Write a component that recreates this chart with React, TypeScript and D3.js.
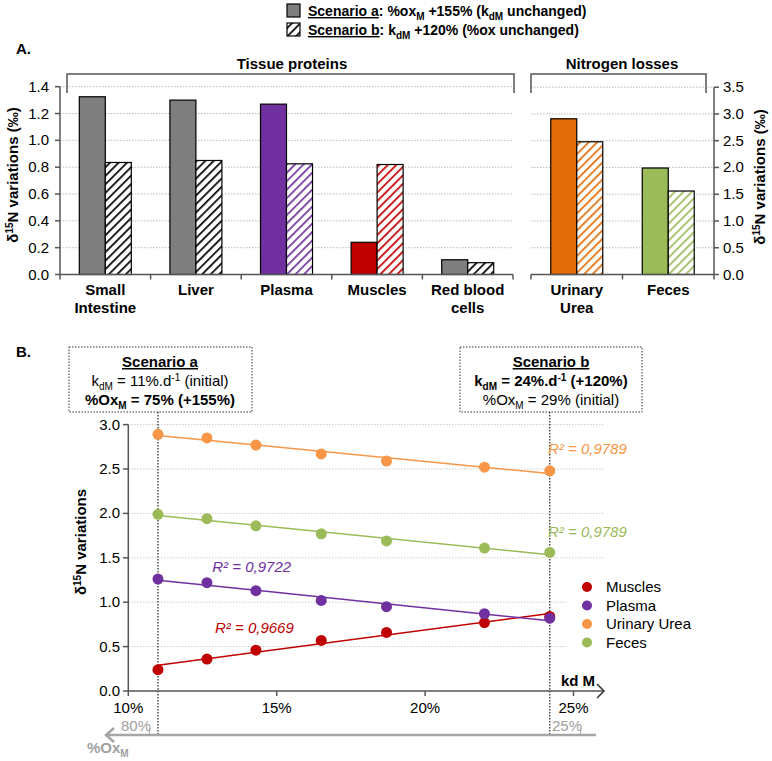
import * as d3 from "d3";

// panel A data
const tissueCats = ["Small|Intestine", "Liver", "Plasma", "Muscles", "Red blood|cells"];
const tissueA = [1.325, 1.3, 1.27, 0.24, 0.11];
const tissueB = [0.835, 0.85, 0.825, 0.82, 0.088];
const tissueColors = ["#7f7f7f", "#7f7f7f", "#7030a0", "#c00000", "#7f7f7f"];
const tissueTicks = [0, 0.2, 0.4, 0.6, 0.8, 1.0, 1.2, 1.4];

const lossCats = ["Urinary|Urea", "Feces"];
const lossA = [2.91, 1.99];
const lossB = [2.48, 1.56];
const lossColors = ["#e36c09", "#9bbb59"];
const lossTicks = [0, 0.5, 1.0, 1.5, 2.0, 2.5, 3.0, 3.5];

// panel B data
const kdValues = [11, 12.65, 14.3, 16.5, 18.7, 22, 24.2];
const seriesNames = ["Muscles", "Plasma", "Urinary Urea", "Feces"];
const muscles = [0.24, 0.36, 0.46, 0.57, 0.66, 0.77, 0.84];
const plasma = [1.26, 1.22, 1.13, 1.02, 0.95, 0.87, 0.82];
const urinary = [2.89, 2.85, 2.77, 2.67, 2.59, 2.52, 2.48];
const feces = [1.99, 1.94, 1.86, 1.77, 1.69, 1.61, 1.56];
const seriesColors = ["#c00000", "#7030a0", "#f79646", "#9bbb59"];
const r2Labels = ["R² = 0,9669", "R² = 0,9722", "R² = 0,9789", "R² = 0,9789"];
const r2Pos = [
  [12.92, 0.655],
  [12.83, 1.34],
  [24.14, 2.67],
  [24.14, 1.73],
];
const yTicksB = [0, 0.5, 1.0, 1.5, 2.0, 2.5, 3.0];
const kdTicks = [10, 15, 20, 25];
const oxTicks = [80, 25];

const font = "Liberation Sans, Arial, sans-serif";

function fit(xs: number[], ys: number[]) {
  const mx = d3.mean(xs)!;
  const my = d3.mean(ys)!;
  let num = 0;
  let den = 0;
  xs.forEach((x, i) => {
    num += (x - mx) * (ys[i] - my);
    den += (x - mx) * (x - mx);
  });
  const slope = num / den;
  return (x: number) => my + slope * (x - mx);
}

function Sub({ t }: { t: string }) {
  return (
    <tspan fontSize="10" dy="4">
      {t}
    </tspan>
  );
}

function BarGroup({
  cats,
  a,
  b,
  colors,
  x0,
  x1,
  y,
  patPrefix,
}: {
  cats: string[];
  a: number[];
  b: number[];
  colors: string[];
  x0: number;
  x1: number;
  y: d3.ScaleLinear<number, number>;
  patPrefix: string;
}) {
  const x = d3.scaleBand<string>().domain(cats).range([x0, x1]);
  const bw = 26;
  const base = y(0);
  return (
    <g>
      {cats.map((c, i) => {
        const cx = x(c)! + x.bandwidth() / 2;
        return (
          <g key={c}>
            <rect x={cx - bw} y={y(a[i])} width={bw} height={base - y(a[i])} fill={colors[i]} stroke="#000" strokeWidth={1.2} />
            <rect
              x={cx}
              y={y(b[i])}
              width={bw}
              height={base - y(b[i])}
              fill={`url(#${patPrefix}${i})`}
              stroke="#000"
              strokeWidth={1.2}
            />
            {c.split("|").map((line, j) => (
              <text key={j} x={cx} y={base + 20 + j * 18} textAnchor="middle" fontWeight="bold" fontSize="15">
                {line}
              </text>
            ))}
          </g>
        );
      })}
      <line x1={x0} x2={x1} y1={base} y2={base} stroke="#555" strokeWidth={1.5} />
      {d3.range(cats.length + 1).map((i) => {
        const tx = x0 + i * x.bandwidth();
        return <line key={i} x1={tx} x2={tx} y1={base} y2={base + 5} stroke="#555" strokeWidth={1.5} />;
      })}
    </g>
  );
}

function hatch(id: string, color: string) {
  return (
    <pattern key={id} id={id} patternUnits="userSpaceOnUse" width={6} height={6} patternTransform="rotate(45)">
      <rect width={6} height={6} fill="#fff" />
      <line x1={0} y1={0} x2={0} y2={6} stroke={color} strokeWidth={3.4} />
    </pattern>
  );
}

export default function App() {
  // Panel A scales
  const yL = d3.scaleLinear().domain([0, 1.4]).range([274.5, 86.7]);
  const yR = d3.scaleLinear().domain([0, 3.5]).range([274.5, 87.2]);
  const hatchCol = (c: string) => (c === "#7f7f7f" ? "#000" : c);

  // Panel B scales
  const xB = d3.scaleLinear().domain([10, 25]).range([128.3, 573.5]);
  const yB = d3.scaleLinear().domain([0, 3]).range([691, 424.6]);
  const oxScale = d3.scaleLinear().domain([80, 25]).range([150, 581]);
  const series = [muscles, plasma, urinary, feces];
  const kdMin = kdValues[0];
  const kdMax = kdValues[kdValues.length - 1];

  return (
    <svg width={772} height={761} style={{ position: "absolute", left: 0, top: 0 }} fontFamily={font}>
      <defs>
        {tissueColors.map((c, i) => hatch(`tp${i}`, hatchCol(c)))}
        {lossColors.map((c, i) => hatch(`lp${i}`, c))}
        {hatch("legHatch", "#000")}
      </defs>
      <rect width={772} height={761} fill="#fff" />

      {/* top legend */}
      <rect x={287} y={4} width={13} height={13} fill="#7f7f7f" stroke="#000" strokeWidth={1.2} />
      <text x={308} y={16} fontSize="14" fontWeight="bold">
        <tspan textDecoration="underline">Scenario a</tspan>: %ox<Sub t="M" />
        <tspan dy="-4"> +155% (k</tspan>
        <Sub t="dM" />
        <tspan dy="-4"> unchanged)</tspan>
      </text>
      <rect x={287} y={23} width={13} height={13} fill="url(#legHatch)" stroke="#000" strokeWidth={1.2} />
      <text x={308} y={35} fontSize="14" fontWeight="bold">
        <tspan textDecoration="underline">Scenario b</tspan>: k<Sub t="dM" />
        <tspan dy="-4"> +120% (%ox unchanged)</tspan>
      </text>

      <text x={16} y={54} fontSize="15" fontWeight="bold">
        A.
      </text>

      {/* Panel A grid */}
      {tissueTicks.map((t) => (
        <line key={t} x1={60} x2={513} y1={yL(t)} y2={yL(t)} stroke="#bbb" strokeDasharray="1.5,1.5" />
      ))}
      {lossTicks.map((t) => (
        <line key={t} x1={531} x2={714} y1={yR(t)} y2={yR(t)} stroke="#bbb" strokeDasharray="1.5,1.5" />
      ))}

      {/* brackets */}
      <path d="M67,93 V74 H514 V93" fill="none" stroke="#555" strokeWidth={1.5} />
      <text x={292} y={69} textAnchor="middle" fontSize="15" fontWeight="bold">
        Tissue proteins
      </text>
      <path d="M531,93 V74 H706 V93" fill="none" stroke="#555" strokeWidth={1.5} />
      <text x={622} y={69} textAnchor="middle" fontSize="15" fontWeight="bold">
        Nitrogen losses
      </text>

      <BarGroup cats={tissueCats} a={tissueA} b={tissueB} colors={tissueColors} x0={60} x1={513} y={yL} patPrefix="tp" />
      <BarGroup cats={lossCats} a={lossA} b={lossB} colors={lossColors} x0={531} x1={714} y={yR} patPrefix="lp" />

      {/* left axis */}
      <line x1={60} x2={60} y1={yL(1.4)} y2={yL(0)} stroke="#555" strokeWidth={1.5} />
      {tissueTicks.map((t) => (
        <g key={t}>
          <line x1={55} x2={60} y1={yL(t)} y2={yL(t)} stroke="#555" strokeWidth={1.5} />
          <text x={49} y={yL(t) + 5} textAnchor="end" fontSize="15">
            {t.toFixed(1)}
          </text>
        </g>
      ))}
      <text transform="translate(18,175) rotate(-90)" textAnchor="middle" fontSize="15" fontWeight="bold">
        δ<tspan fontSize="10" dy="-5">15</tspan>
        <tspan dy="5">N variations (‰)</tspan>
      </text>

      {/* right axis */}
      <line x1={714} x2={714} y1={yR(3.5)} y2={yR(0)} stroke="#555" strokeWidth={1.5} />
      {lossTicks.map((t) => (
        <g key={t}>
          <line x1={714} x2={719} y1={yR(t)} y2={yR(t)} stroke="#555" strokeWidth={1.5} />
          <text x={723} y={yR(t) + 5} fontSize="15">
            {t.toFixed(1)}
          </text>
        </g>
      ))}
      <text transform="translate(765,177) rotate(-90)" textAnchor="middle" fontSize="15" fontWeight="bold">
        δ<tspan fontSize="10" dy="-5">15</tspan>
        <tspan dy="5">N variations (‰)</tspan>
      </text>

      {/* Panel B */}
      <text x={16} y={357} fontSize="15" fontWeight="bold">
        B.
      </text>

      {/* scenario boxes */}
      <rect x={69} y={347} width={183} height={65} fill="none" stroke="#333" strokeDasharray="1.5,1.5" />
      <text x={160} y={367} textAnchor="middle" fontSize="15" fontWeight="bold" textDecoration="underline">
        Scenario a
      </text>
      <text x={160} y={386} textAnchor="middle" fontSize="15">
        k<Sub t="dM" />
        <tspan dy="-4"> = 11%.d</tspan>
        <tspan fontSize="10" dy="-5">-1</tspan>
        <tspan dy="5"> (initial)</tspan>
      </text>
      <text x={160} y={405} textAnchor="middle" fontSize="15" fontWeight="bold">
        %Ox<Sub t="M" />
        <tspan dy="-4"> = 75% (+155%)</tspan>
      </text>

      <rect x={460} y={347} width={182} height={65} fill="none" stroke="#333" strokeDasharray="1.5,1.5" />
      <text x={551} y={367} textAnchor="middle" fontSize="15" fontWeight="bold" textDecoration="underline">
        Scenario b
      </text>
      <text x={551} y={386} textAnchor="middle" fontSize="15" fontWeight="bold">
        k<Sub t="dM" />
        <tspan dy="-4"> = 24%.d</tspan>
        <tspan fontSize="10" dy="-5">-1</tspan>
        <tspan dy="5"> (+120%)</tspan>
      </text>
      <text x={551} y={405} textAnchor="middle" fontSize="15">
        %Ox<Sub t="M" />
        <tspan dy="-4"> = 29% (initial)</tspan>
      </text>

      {/* grid B */}
      {yTicksB.slice(1).map((t) => (
        <line key={t} x1={128} x2={605} y1={yB(t)} y2={yB(t)} stroke="#ccc" strokeDasharray="1.5,1.5" />
      ))}

      {/* dotted scenario lines */}
      {[kdMin, kdMax].map((k) => (
        <line key={k} x1={xB(k)} x2={xB(k)} y1={412} y2={736} stroke="#222" strokeDasharray="1.5,1.5" strokeWidth={1.2} />
      ))}

      {/* trend lines and points */}
      {series.map((s, i) => {
        const f = fit(kdValues, s);
        const pts: [number, number][] = [
          [kdMin, f(kdMin)],
          [kdMax, f(kdMax)],
        ];
        return (
          <g key={i}>
            <path
              d={d3.line<[number, number]>().x((d) => xB(d[0])).y((d) => yB(d[1]))(pts)!}
              stroke={seriesColors[i]}
              strokeWidth={1.5}
              fill="none"
            />
            {kdValues.map((k, j) => (
              <circle key={j} cx={xB(k)} cy={yB(s[j])} r={5.5} fill={seriesColors[i]} />
            ))}
            <text
              x={xB(r2Pos[i][0])}
              y={yB(r2Pos[i][1])}
              fontSize="15"
              fontStyle="italic"
              fill={seriesColors[i]}
            >
              {r2Labels[i]}
            </text>
          </g>
        );
      })}

      {/* legend B */}
      <rect x={567} y={576} width={120} height={76} fill="#fff" />
      {seriesNames.map((n, i) => (
        <g key={n}>
          <circle cx={587} cy={587 + i * 18.5} r={5} fill={seriesColors[i]} />
          <text x={606} y={592 + i * 18.5} fontSize="15">
            {n}
          </text>
        </g>
      ))}

      {/* y axis B */}
      <line x1={128.3} x2={128.3} y1={yB(3)} y2={yB(0)} stroke="#555" strokeWidth={1.5} />
      {yTicksB.map((t) => (
        <g key={t}>
          <line x1={123} x2={128.3} y1={yB(t)} y2={yB(t)} stroke="#555" strokeWidth={1.5} />
          <text x={120} y={yB(t) + 5} textAnchor="end" fontSize="15">
            {t.toFixed(1)}
          </text>
        </g>
      ))}
      <text transform="translate(86,542) rotate(-90)" textAnchor="middle" fontSize="15" fontWeight="bold">
        δ<tspan fontSize="10" dy="-5">15</tspan>
        <tspan dy="5">N variations</tspan>
      </text>

      {/* x axis B (kd M) */}
      <line x1={128.3} x2={604} y1={yB(0)} y2={yB(0)} stroke="#555" strokeWidth={1.5} />
      <path d={`M597,${yB(0) - 7} L604,${yB(0)} L597,${yB(0) + 7}`} fill="none" stroke="#333" strokeWidth={1.5} />
      {kdTicks.map((t) => (
        <g key={t}>
          <line x1={xB(t)} x2={xB(t)} y1={yB(0)} y2={yB(0) + 5} stroke="#555" strokeWidth={1.5} />
          <text x={xB(t)} y={yB(0) + 22} textAnchor="middle" fontSize="15">
            {t}%
          </text>
        </g>
      ))}
      <text x={578} y={yB(0) - 5} textAnchor="middle" fontSize="15" fontWeight="bold">
        kd M
      </text>

      {/* %Ox axis */}
      <line x1={106} x2={596} y1={735} y2={735} stroke="#a6a6a6" strokeWidth={2.5} />
      <path d="M114,728 L106,735 L114,742" fill="none" stroke="#a6a6a6" strokeWidth={2.5} />
      {oxTicks.map((t) => (
        <g key={t}>
          <line x1={oxScale(t)} x2={oxScale(t) - 1} y1={728} y2={735} stroke="#a6a6a6" strokeWidth={1} />
          <text x={oxScale(t) - 14} y={731} textAnchor="middle" fontSize="15" fill="#a0a0a0">
            {t}%
          </text>
        </g>
      ))}
      <text x={87} y={753} fontSize="15" fontWeight="bold" fill="#a0a0a0">
        %Ox<Sub t="M" />
      </text>
    </svg>
  );
}
